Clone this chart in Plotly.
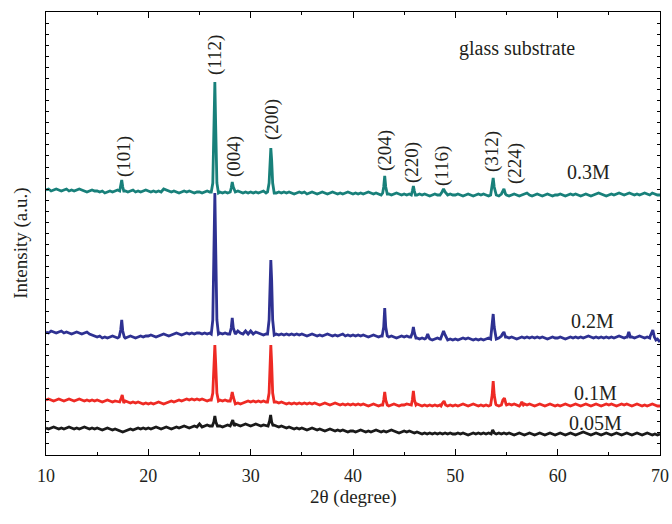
import numpy as np
import plotly.graph_objects as go

# ---------------- data ----------------
two_theta_start = 10.0
two_theta_step = 0.25   # baseline sampling (degrees)

# Baseline intensities (a.u., stacked offsets) sampled every 0.25 deg from 10 to 70
base_03M = [
    265,266,264,265,266,265,264,265,266,264,265,264,265,266,265,264,263,264,265,264,
    264,263,264,262,263,264,263,264,265,264,263,264,263,264,265,263,264,263,264,265,
    264,263,264,263,264,263,266,265,264,263,264,263,262,263,264,263,264,263,262,263,
    263,262,263,264,263,262,263,264,263,262,263,262,263,264,263,264,263,262,263,262,
    263,262,263,262,263,264,262,263,264,263,262,263,262,263,262,263,262,261,262,263,
    262,263,261,262,263,262,261,262,263,262,261,262,263,262,261,262,261,262,263,262,
    261,262,261,262,261,262,263,262,261,262,261,260,261,262,261,260,261,262,261,260,
    261,260,261,260,261,260,261,260,261,260,259,260,261,260,261,260,259,260,261,260,
    260,261,260,259,260,261,260,259,260,261,260,261,260,259,260,261,260,259,260,261,
    260,259,260,261,260,259,260,261,262,260,259,260,261,260,259,260,261,260,259,260,
    260,261,260,259,260,261,260,261,260,259,260,261,260,259,260,261,262,261,260,259,
    260,261,260,261,262,261,260,261,262,261,260,261,260,261,262,261,260,262,261,260,
    260]
base_02M = [
    123,122,124,123,122,123,124,122,123,122,121,122,123,122,121,122,123,121,120,119,
    118,119,117,118,117,118,119,118,117,118,118,117,118,119,118,117,118,119,118,119,
    119,120,119,118,119,120,121,120,119,120,121,122,121,120,121,122,121,122,121,122,
    122,121,122,121,122,121,122,121,122,121,122,121,122,123,121,124,122,121,124,121,
    124,121,123,122,121,120,121,120,121,122,121,120,121,120,121,120,121,120,121,120,
    121,120,119,120,121,120,119,120,119,120,121,120,119,120,119,120,121,119,120,119,
    120,119,120,119,120,119,118,119,120,119,118,119,118,119,118,119,118,117,118,119,
    118,119,118,117,118,117,116,117,116,117,116,115,116,117,116,115,116,115,116,115,
    116,115,116,117,116,117,116,115,116,115,116,115,116,117,116,117,116,117,118,117,
    118,117,118,117,116,117,118,117,118,117,118,117,118,117,118,117,116,117,118,117,
    117,118,117,116,117,118,117,118,117,118,117,118,119,118,117,118,117,118,117,118,
    117,118,117,118,119,118,117,118,117,118,117,118,119,118,117,118,117,118,119,116,
    113]
base_01M = [
    55,56,55,54,55,56,55,54,55,56,55,54,55,56,55,54,55,54,55,54,
    55,54,53,54,55,54,53,54,53,54,53,54,53,52,53,52,53,52,51,52,
    51,52,51,52,53,52,51,52,53,54,53,54,55,54,55,56,55,56,55,56,
    55,56,55,54,55,54,55,54,55,54,55,54,53,52,51,52,51,52,53,54,
    53,54,53,54,53,54,53,54,53,52,53,52,53,52,51,52,51,52,51,52,
    51,52,51,52,51,52,51,50,51,52,51,50,51,52,51,50,51,50,51,50,
    51,50,51,50,51,50,49,50,51,50,49,50,51,50,49,50,51,50,49,50,
    50,51,50,49,50,51,50,49,50,49,50,49,50,49,50,51,50,49,50,49,
    50,49,50,51,50,49,50,51,50,49,50,49,50,49,50,51,50,49,50,51,
    50,51,50,51,50,49,50,51,50,51,50,49,50,51,50,49,50,51,50,49,
    50,49,50,51,50,49,50,51,50,49,50,51,50,49,50,51,50,49,50,51,
    50,51,50,49,50,51,50,51,50,49,50,51,50,49,50,49,50,51,50,49,
    49]
base_005M = [
    27,26,27,28,27,26,27,26,27,28,27,26,27,26,27,28,27,26,27,26,
    27,26,25,26,27,26,25,26,25,24,23,24,25,26,25,26,27,26,27,26,
    27,26,27,28,27,26,27,28,27,26,27,28,27,28,29,28,27,28,29,28,
    31,28,29,30,29,28,29,30,29,28,29,30,29,30,31,30,29,30,31,30,
    29,30,31,30,29,30,29,30,29,30,29,28,29,28,27,28,27,26,27,26,
    27,26,25,26,27,26,25,26,25,24,25,26,25,24,25,24,25,24,23,24,
    24,23,24,25,24,23,24,23,24,25,24,23,24,23,24,25,24,23,22,23,
    24,23,24,23,22,23,22,21,22,21,22,21,22,21,22,21,22,21,22,21,
    21,22,21,22,21,20,21,22,21,22,21,22,21,22,21,22,21,22,21,22,
    21,22,21,20,21,22,21,20,21,22,21,20,21,22,21,20,21,22,21,20,
    21,22,21,20,21,22,21,20,21,22,23,22,21,20,21,22,21,20,21,22,
    21,20,21,22,21,20,21,22,21,20,21,22,21,20,21,22,21,20,21,20,
    21]

# Diffraction peaks: (2theta points, intensity points)
peaks_03M = [
    ([17.2, 17.3, 17.4, 17.5, 17.6], [264, 268, 275, 268, 264]),
    ([26.15, 26.3, 26.42, 26.5, 26.58, 26.7, 26.85], [263, 272, 330, 373, 330, 272, 262]),
    ([28.0, 28.1, 28.2, 28.3, 28.45], [263, 267, 273, 268, 263]),
    ([31.65, 31.8, 31.9, 31.97, 32.05, 32.15, 32.3], [263, 272, 295, 307, 295, 272, 262]),
    ([42.9, 43.0, 43.1, 43.2, 43.35], [262, 268, 279, 268, 261]),
    ([45.7, 45.8, 45.9, 46.0, 46.1], [260, 264, 269, 264, 260]),
    ([48.5, 48.7, 48.85, 49.0, 49.2], [260, 263, 266, 263, 260]),
    ([53.45, 53.6, 53.7, 53.8, 53.95], [260, 268, 277, 268, 260]),
    ([54.5, 54.65, 54.75, 54.9], [261, 264, 266, 261]),
]
peaks_02M = [
    ([17.15, 17.3, 17.4, 17.5, 17.65], [118, 125, 135, 124, 118]),
    ([26.15, 26.3, 26.42, 26.5, 26.58, 26.7, 26.85], [121, 135, 210, 262, 210, 135, 121]),
    ([27.95, 28.1, 28.2, 28.3, 28.45], [121, 127, 137, 127, 121]),
    ([31.65, 31.8, 31.9, 31.97, 32.05, 32.15, 32.3], [121, 135, 175, 195, 175, 135, 120]),
    ([42.85, 43.0, 43.1, 43.2, 43.35], [119, 128, 147, 128, 119]),
    ([45.65, 45.8, 45.9, 46.0, 46.15], [118, 122, 128, 122, 117]),
    ([47.15, 47.3, 47.45], [117, 121, 117]),
    ([48.55, 48.7, 48.85, 49.0, 49.15], [116, 120, 124, 120, 116]),
    ([53.45, 53.6, 53.7, 53.8, 53.95], [116, 128, 141, 128, 119]),
    ([54.5, 54.6, 54.75, 54.9], [119, 121, 123, 118]),
    ([66.8, 66.95, 67.1], [118, 123, 118]),
    ([69.05, 69.2, 69.3, 69.45, 69.6], [119, 123, 125, 118, 115]),
]
peaks_01M = [
    ([17.2, 17.35, 17.45, 17.6], [53, 57, 60, 52]),
    ([26.15, 26.3, 26.42, 26.5, 26.58, 26.7, 26.85], [55, 62, 92, 110, 92, 62, 54]),
    ([28.0, 28.1, 28.2, 28.3, 28.45], [54, 58, 63, 58, 53]),
    ([31.65, 31.8, 31.9, 31.97, 32.05, 32.15, 32.3], [53, 62, 92, 110, 92, 62, 53]),
    ([42.9, 43.0, 43.1, 43.2, 43.35], [50, 55, 63, 55, 50]),
    ([45.7, 45.8, 45.9, 46.0, 46.15], [50, 55, 64, 55, 50]),
    ([48.6, 48.75, 48.9, 49.05], [49, 52, 54, 50]),
    ([53.45, 53.6, 53.7, 53.8, 53.95], [50, 60, 74, 60, 51]),
    ([54.5, 54.65, 54.8, 54.95], [50, 55, 57, 51]),
    ([56.35, 56.5, 56.65], [50, 53, 50]),
]
peaks_005M = [
    ([26.25, 26.4, 26.5, 26.6, 26.75], [29, 33, 39, 33, 29]),
    ([28.0, 28.15, 28.25, 28.4], [29, 33, 35, 29]),
    ([31.7, 31.85, 31.95, 32.05, 32.2], [29, 34, 40, 33, 29]),
    ([53.5, 53.65, 53.8], [21, 25, 22]),
]

series_names = ["0.3M", "0.2M", "0.1M", "0.05M"]
series_colors = ["#18807a", "#2e3192", "#ee2a24", "#1a1a1a"]

hkl_labels = ["(101)", "(112)", "(004)", "(200)", "(204)", "(220)", "(116)", "(312)", "(224)"]
hkl_x = [17.62, 26.52, 28.37, 32.09, 43.13, 45.77, 48.70, 53.58, 55.83]
hkl_y = [299, 400, 299, 335, 304, 292, 289, 304, 292]

conc_x = [63.06, 63.45, 63.65, 63.65]
conc_y = [283, 134, 62, 32]

x_ticks = [10, 20, 30, 40, 50, 60, 70]


def build(base, peaks):
    xs = [two_theta_start + i * two_theta_step for i in range(len(base))]
    pts = []
    for x, y in zip(xs, base):
        if any(min(px) <= x <= max(px) for px, _ in peaks):
            continue
        pts.append((x, y))
    for px, py in peaks:
        pts.extend(zip(px, py))
    pts.sort()
    return [p[0] for p in pts], [p[1] for p in pts]


fig = go.Figure()
for name, base, peaks, col in zip(series_names,
                                   [base_03M, base_02M, base_01M, base_005M],
                                   [peaks_03M, peaks_02M, peaks_01M, peaks_005M],
                                   series_colors):
    xx, yy = build(base, peaks)
    fig.add_trace(go.Scatter(x=xx, y=yy, mode="lines", name=name,
                             line=dict(color=col, width=2.8), showlegend=False))

serif = "Liberation Serif"
txtcol = "#231f20"

for lab, x, y in zip(hkl_labels, hkl_x, hkl_y):
    fig.add_annotation(x=x, y=y, text=lab, showarrow=False, textangle=-90,
                       font=dict(family=serif, size=19, color=txtcol))

for lab, x, y in zip(series_names, conc_x, conc_y):
    fig.add_annotation(x=x, y=y, text=lab, showarrow=False,
                       font=dict(family=serif, size=20, color=txtcol))

fig.add_annotation(x=56.03, y=407, text="glass substrate", showarrow=False,
                   font=dict(family=serif, size=20, color=txtcol))

# axis titles
fig.add_annotation(xref="paper", yref="paper", x=0.5, y=-0.095, text="2θ (degree)",
                   showarrow=False, yanchor="middle",
                   font=dict(family=serif, size=19, color=txtcol))
fig.add_annotation(xref="paper", yref="paper", x=-0.041, y=0.4786, text="Intensity (a.u.)",
                   showarrow=False, textangle=-90, xanchor="center",
                   font=dict(family=serif, size=19, color=txtcol))

fig.update_layout(
    width=672, height=524,
    margin=dict(l=46, r=12, t=12, b=69),
    showlegend=False,
    paper_bgcolor="white", plot_bgcolor="white",
    xaxis=dict(range=[10, 70], tickvals=x_ticks, ticks="inside", ticklen=6,
               tickwidth=1, tickcolor="black", automargin=False,
               ticklabelstandoff=4,
               minor=dict(dtick=5, tick0=10, ticks="inside", ticklen=3, tickcolor="black"),
               showline=True, linecolor="black", linewidth=1, mirror="allticks",
               showgrid=False, zeroline=False,
               tickfont=dict(family=serif, size=18, color=txtcol)),
    yaxis=dict(range=[0, 443], tick0=0, dtick=443 / 40, ticks="inside", ticklen=3,
               tickwidth=1, tickcolor="black", showticklabels=False, automargin=False,
               showline=True, linecolor="black", linewidth=1, mirror="allticks",
               showgrid=False, zeroline=False),
)

fig.write_html("out.html")
